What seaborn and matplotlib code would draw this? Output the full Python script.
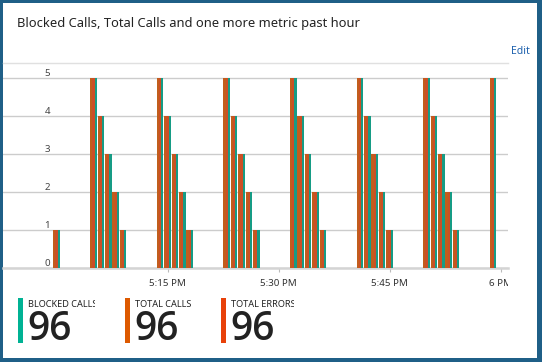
import numpy as np
import pandas as pd
import matplotlib
matplotlib.use("Agg")
import matplotlib.pyplot as plt
import seaborn as sns
from matplotlib.patches import Rectangle
from matplotlib.transforms import Bbox, TransformedBbox

# ---- data (minutes after 5:00 PM, count per minute) ----
minutes = [0, 5, 6, 7, 8, 9, 14, 15, 16, 17, 18, 23, 24, 25, 26, 27,
           32, 33, 34, 35, 36, 41, 42, 43, 44, 45, 50, 51, 52, 53, 54, 59]
counts = [1, 5, 4, 3, 2, 1, 5, 4, 3, 2, 1, 5, 4, 3, 2, 1,
          5, 4, 3, 2, 1, 5, 4, 3, 2, 1, 5, 4, 3, 2, 1, 5]
blocked_calls = counts
total_calls = counts
total_errors = counts
series_names = ["BLOCKED CALLS", "TOTAL CALLS", "TOTAL ERRORS"]
series_colors = ["#00B294", "#DD5900", "#E8410A"]
tick_minutes = [15, 30, 45, 60]
tick_labels = ["5:15 PM", "5:30 PM", "5:45 PM", "6 PM"]
y_ticks = [0, 1, 2, 3, 4, 5]
title = "Blocked Calls, Total Calls and one more metric past hour"

df = pd.concat([
    pd.DataFrame({"minute": minutes, "value": blocked_calls, "series": series_names[0]}),
    pd.DataFrame({"minute": minutes, "value": total_calls, "series": series_names[1]}),
    pd.DataFrame({"minute": minutes, "value": total_errors, "series": series_names[2]}),
])
totals = [sum(blocked_calls), sum(total_calls), sum(total_errors)]

W, H = 542, 362
fig = plt.figure(figsize=(W / 100, H / 100), dpi=100)
fig.patch.set_facecolor("#1F5F87")
plt.rcParams["font.family"] = ["Noto Sans", "DejaVu Sans"]

def fx(px):
    return px / W

def fy(py):
    return 1 - py / H

# white panel
fig.add_artist(Rectangle((fx(3), fy(358)), fx(534), (355) / H,
                         transform=fig.transFigure, facecolor="white",
                         edgecolor="none", zorder=0))

ax = fig.add_axes([fx(3), fy(268.3), fx(508) - fx(3), (268.3 - 63.3) / H])
ax.set_facecolor("none")

color_map = dict(zip(series_names, series_colors))
hue_order = ["TOTAL CALLS", "TOTAL ERRORS", "BLOCKED CALLS"]
sns.barplot(data=df, x="minute", y="value", hue="series", hue_order=hue_order,
            palette=color_map, native_scale=True, width=0.88, dodge=True,
            legend=False, ax=ax, edgecolor="none", linewidth=0, zorder=3)

ax.set_xlim(-7.23, 61.01)
ax.set_ylim(0, 5 * 205 / 190)
ax.set_xlabel("")
ax.set_ylabel("")

ax.set_yticks(y_ticks)
ax.set_yticklabels([str(v) for v in y_ticks])
ax.yaxis.grid(True, color="#CCCCCC", linewidth=1.0, zorder=0)
ax.set_axisbelow(True)
ax.tick_params(axis="y", length=0, pad=-33.8, labelsize=7, labelcolor="#444444")
plt.setp(ax.get_yticklabels(), va="bottom")

ax.set_xticks(tick_minutes)
ax.set_xticklabels(tick_labels)
ax.tick_params(axis="x", length=3, width=0.8, color="#BBBBBB", pad=5.0,
               labelsize=7, labelcolor="#333333")

for s in ["left", "right"]:
    ax.spines[s].set_visible(False)
ax.spines["top"].set_color("#E0E0E0")
ax.spines["top"].set_linewidth(1.0)
ax.spines["bottom"].set_color("#D4D4D4")
ax.spines["bottom"].set_linewidth(1.8)

clip = TransformedBbox(Bbox([[0, 0], [fx(508), 1]]), fig.transFigure)
for lab in ax.get_xticklabels():
    lab.set_clip_on(True)
    lab.set_clip_box(clip)

# title and Edit
fig.text(fx(17), fy(24), title, fontsize=9.3, color="#222222", va="center", ha="left")
fig.text(fx(511.5), fy(52), "Edit", fontsize=7.5, color="#1F62AE", va="center", ha="left")

# bottom legend
bar_x = [17.7, 125, 221]
text_x = [28, 135, 231]
clip_x = [95, 192, 294]
for name, col, tot, bx, tx, cx in zip(series_names, series_colors, totals, bar_x, text_x, clip_x):
    fig.add_artist(Rectangle((fx(bx), fy(342.7)), fx(4.8), (342.7 - 298) / H,
                             transform=fig.transFigure, facecolor=col,
                             edgecolor="none"))
    cb = TransformedBbox(Bbox([[fx(tx - 2), 0], [fx(cx), 1]]), fig.transFigure)
    t1 = fig.text(fx(tx), fy(306.7), name, fontsize=6.6, color="#222222",
                  va="baseline", ha="left")
    t1.set_clip_on(True)
    t1.set_clip_box(cb)
    fig.text(fx(tx - 0.5), fy(340), str(tot), fontsize=28, color="#222222",
             va="baseline", ha="left", fontweight="semibold",
             family=["Open Sans", "DejaVu Sans"])

fig.savefig("out.png", dpi=100, facecolor=fig.get_facecolor())
